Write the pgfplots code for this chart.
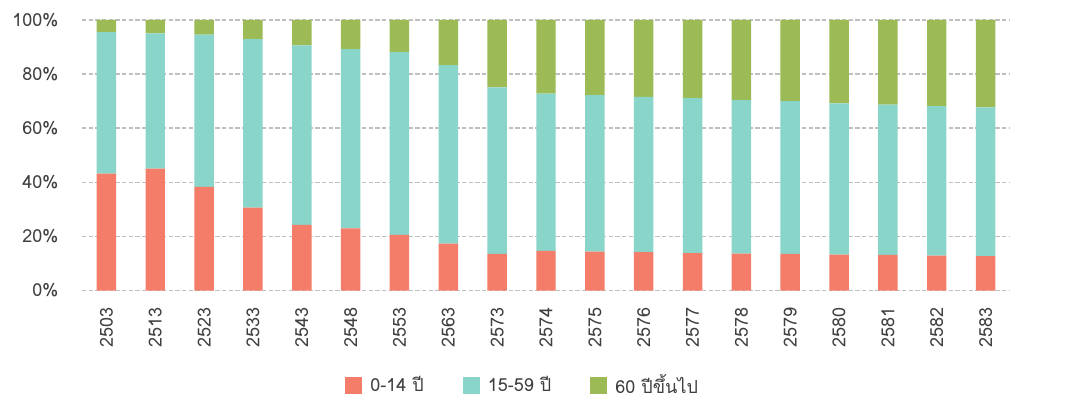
\documentclass[border=0pt]{standalone}
\usepackage{pgfplots}
\pgfplotsset{compat=1.18}
\usepackage{pgfplotstable}
\usepackage{fontspec}
\setmainfont[Script=Thai]{Loma}

\definecolor{kid}{HTML}{F47D69}
\definecolor{work}{HTML}{8AD5C9}
\definecolor{old}{HTML}{9CBA55}
\definecolor{gridc}{HTML}{BFBFBF}
\definecolor{txt}{HTML}{404040}

% population shares by age group (percent), one row per year
\pgfplotstableread{
x  kid  work  old
0  43.2 52.3  4.5
1  45.1 50.0  4.9
2  38.3 56.3  5.4
3  30.7 62.2  7.1
4  24.3 66.3  9.4
5  23.0 66.2 10.8
6  20.6 67.5 11.9
7  17.4 65.9 16.7
8  13.6 61.5 24.9
9  14.7 58.1 27.2
10 14.4 57.8 27.8
11 14.2 57.4 28.4
12 13.9 57.2 28.9
13 13.7 56.7 29.6
14 13.6 56.4 30.0
15 13.3 55.9 30.8
16 13.2 55.5 31.3
17 12.9 55.3 31.8
18 12.8 54.9 32.3
}\popdata

\begin{document}
\fontsize{13.5pt}{16pt}\selectfont
\begin{tikzpicture}
\path[use as bounding box] (-61.5pt,-80.5pt) rectangle (738pt,218pt);
\begin{axis}[
  at={(0,0)}, anchor=south west,
  scale only axis, width=696pt, height=203pt,
  ybar stacked, bar width=14.6pt,
  xmin=-0.5, xmax=18.5, ymin=0, ymax=100,
  axis line style={draw=none},
  major tick length=0pt,
  ytick={0,20,...,100},
  yticklabel={\pgfmathprintnumber{\tick}\%},
  /pgf/number format/assume math mode=true,
  ymajorgrids,
  major grid style={gridc, line width=1.2pt, dash pattern=on 3.2pt off 1.8pt},
  xtick={0,...,18},
  xticklabels={2503,2513,2523,2533,2543,2548,2553,2563,2573,2574,2575,2576,2577,2578,2579,2580,2581,2582,2583},
  tick label style={text=txt, font=\fontsize{13.5pt}{16pt}\selectfont},
  yticklabel style={xshift=-13pt},
  xticklabel style={rotate=90, anchor=east, xshift=-8pt},
  legend columns=3,
  legend style={at={(axis description cs:0.475,-0.35)}, anchor=center,
    draw=none, fill=none, inner sep=0pt, nodes={inner ysep=1pt},
    font=\fontsize{13.5pt}{16pt}\selectfont, text=txt,
    /tikz/every even column/.append style={column sep=27pt}},
  legend image code/.code={\fill[#1] (0pt,-6.4pt) rectangle (12.75pt,6.4pt); \path (17pt,0pt);},
]
\addplot[fill=kid, draw=none] table[x=x, y=kid] {\popdata};
\addplot[fill=work, draw=none] table[x=x, y=work] {\popdata};
\addplot[fill=old, draw=none] table[x=x, y=old] {\popdata};
\legend{0-14 ปี, 15-59 ปี, 60 ปีขึ้นไป}
\node[anchor=west, text=txt, inner sep=0pt, xshift=18pt, yshift=-8.5pt] at (rel axis cs:1,0) {พ.ศ.};
\end{axis}
\end{tikzpicture}
\end{document}
